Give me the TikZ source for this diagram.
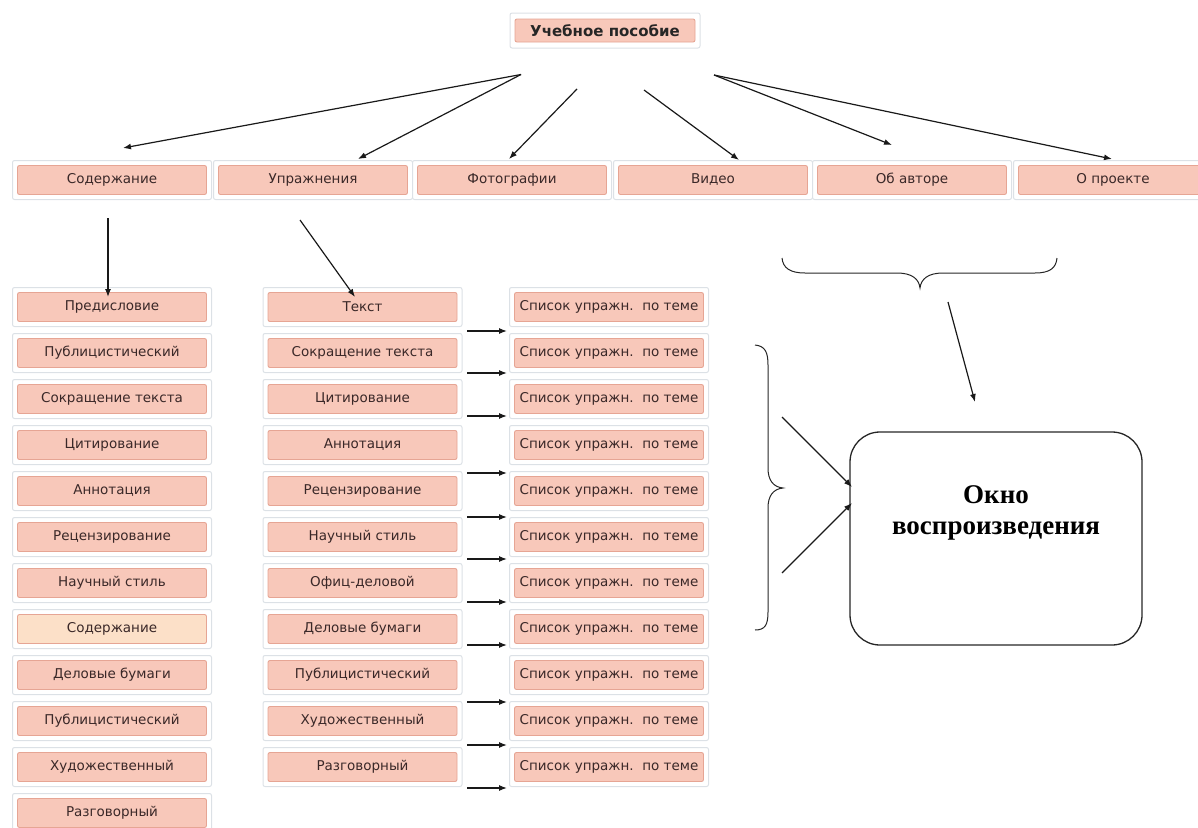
\documentclass[tikz,border=0pt]{standalone}
\usepackage{fontspec}
\setmainfont{DejaVu Sans}
\newfontfamily\winfont{Liberation Serif}
\usetikzlibrary{arrows.meta}

\definecolor{pinkfill}{RGB}{248,200,186}
\definecolor{pinkedge}{RGB}{230,165,148}
\definecolor{framecol}{RGB}{220,225,230}
\definecolor{txtcol}{RGB}{58,40,40}
\definecolor{lightfill}{RGB}{252,224,200}

\tikzset{
  pbox/.style={draw=framecol, line width=1pt, fill=white, rounded corners=2pt,
    minimum width=199pt, minimum height=39pt, inner sep=0pt, text=txtcol,
    font=\fontsize{13.5}{15}\selectfont,
    path picture={\draw[pinkedge, fill=#1, line width=0.9pt]
      ([shift={(5pt,5pt)}]path picture bounding box.south west) rectangle
      ([shift={(-5pt,-5pt)}]path picture bounding box.north east);}},
  pbox/.default=pinkfill,
  topbox/.style={draw=framecol, line width=1pt, fill=white, rounded corners=2pt,
    minimum width=190pt, minimum height=35pt, inner sep=0pt, text=black!85,
    font=\fontsize{15}{17}\selectfont\bfseries,
    path picture={\draw[pinkedge, fill=pinkfill, line width=0.9pt]
      ([shift={(5pt,6pt)}]path picture bounding box.south west) rectangle
      ([shift={(-5pt,-6pt)}]path picture bounding box.north east);}},
  arr/.style={-{Latex[length=8pt,width=6pt]}, line width=1.2pt, black!90},
  bracestyle/.style={line width=1pt, black!85},
  winbox/.style={draw=black!85, line width=1.3pt, rounded corners=30pt,
    minimum width=292pt, minimum height=213pt, inner sep=0pt}
}

\begin{document}
\begin{tikzpicture}[x=1pt, y=-1pt]
\useasboundingbox (0,0) rectangle (1198,827);

% top node
\node[topbox] (top) at (605,30.5) {Учебное пособие};

% second row
\node[pbox] (cont)   at (112,180)  {Содержание};
\node[pbox] (ex)     at (313,180)  {Упражнения};
\node[pbox] (photo)  at (512,180)  {Фотографии};
\node[pbox] (video)  at (713,180)  {Видео};
\node[pbox] (author) at (912,180)  {Об авторе};
\node[pbox] (proj)   at (1113,180) {О проекте};

% left column
\foreach \t [count=\i] in {Предисловие, Публицистический, Сокращение текста,
  Цитирование, Аннотация, Рецензирование, Научный стиль}
  \node[pbox] (l\i) at (112,{307+46*(\i-1)}) {\t};
\node[pbox=lightfill] (l8) at (112,629) {Содержание};
\foreach \t [count=\i from 9] in {Деловые бумаги, Публицистический,
  Художественный, Разговорный}
  \node[pbox] (l\i) at (112,{307+46*(\i-1)}) {\t};

% middle column
\foreach \t [count=\i] in {Текст, Сокращение текста, Цитирование, Аннотация,
  Рецензирование, Научный стиль, Офиц-деловой, Деловые бумаги,
  Публицистический, Художественный, Разговорный}
  \node[pbox] (m\i) at (362.5,{307+46*(\i-1)}) {\t};

% right column
\foreach \i in {1,...,11}
  \node[pbox] (r\i) at (609,{307+46*(\i-1)}) {Список упражн.\ \ по теме};

% arrows from top node
\coordinate (t1) at (521,74.5);
\coordinate (t2) at (577,89);
\coordinate (t3) at (644,90);
\coordinate (t4) at (714,75);
\coordinate (e1) at (123,148);
\coordinate (e2) at (358,159);
\coordinate (e3) at (509,159);
\coordinate (e4) at (739,160);
\coordinate (e5) at (892,145);
\coordinate (e6) at (1112,159);
\draw[arr] (t1) -- (e1);
\draw[arr] (t1) -- (e2);
\draw[arr] (t2) -- (e3);
\draw[arr] (t3) -- (e4);
\draw[arr] (t4) -- (e5);
\draw[arr] (t4) -- (e6);

% arrows down to columns
\coordinate (c1s) at (108,218);
\coordinate (c1e) at (108,297);
\coordinate (c2s) at (300,220);
\coordinate (c2e) at (355,297);
\draw[arr] (c1s) -- (c1e);
\draw[arr] (c2s) -- (c2e);

% small arrows between middle and right columns
\foreach \y [count=\i] in {331,373,416,473,517,559,602,645,702,745,788} {
  \coordinate (hs\i) at (467,\y);
  \coordinate (he\i) at (507,\y);
  \draw[arr] (hs\i) -- (he\i);
}

% horizontal brace
\draw[bracestyle] (782,258) .. controls (783,268) and (790,273) .. (805,273)
  -- (897,273) .. controls (912,273) and (919,279) .. (920,288)
  .. controls (921,279) and (928,273) .. (943,273)
  -- (1035,273) .. controls (1050,273) and (1056,268) .. (1057,258);

% vertical brace
\draw[bracestyle] (755,345) .. controls (765,346) and (768,352) .. (768,365)
  -- (768,468) .. controls (768,480) and (773,487) .. (783,488)
  .. controls (773,489) and (768,496) .. (768,508)
  -- (768,612) .. controls (768,625) and (765,630) .. (755,630);

% playback window
\node[winbox,
  label={[yshift=26pt, align=center, font=\winfont\bfseries\fontsize{27}{31}\selectfont]center:Окно\\воспроизведения}]
  (win) at (996,538.5) {};

\coordinate (bs) at (948,302);
\coordinate (be) at (975,402);
\draw[arr] (bs) -- (be);
\coordinate (w1s) at (782,417);
\coordinate (w1e) at (852,487);
\coordinate (w2s) at (782,573);
\coordinate (w2e) at (852,503);
\draw[arr] (w1s) -- (w1e);
\draw[arr] (w2s) -- (w2e);
\end{tikzpicture}
\end{document}
